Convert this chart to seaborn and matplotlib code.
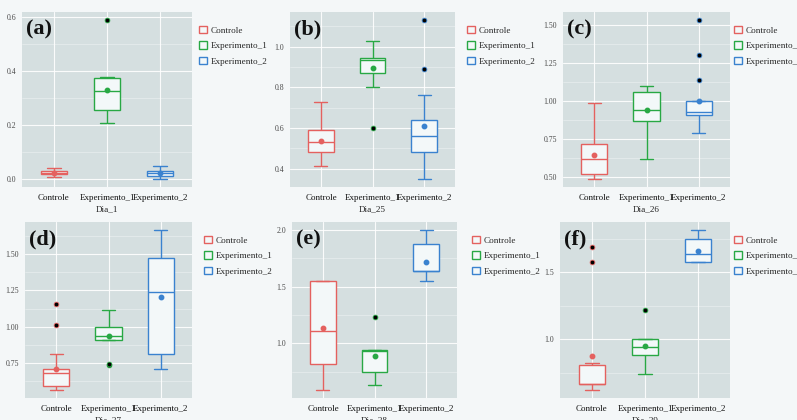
import matplotlib
matplotlib.use("Agg")
import matplotlib.pyplot as plt
from matplotlib.patches import Patch
from matplotlib.ticker import FixedLocator, FormatStrFormatter
import pandas as pd
import seaborn as sns

# Grupos e cores
categorias = ["Controle", "Experimento_1", "Experimento_2"]
cores = {"Controle": "#e4615f", "Experimento_1": "#28a844", "Experimento_2": "#3a82cf"}

# Observações por dia e grupo
dia_1_controle = [0.009, 0.015, 0.018, 0.020, 0.022, 0.027, 0.029, 0.037, 0.039]
dia_1_exp1 = [0.208, 0.230, 0.254, 0.276, 0.325, 0.330, 0.373, 0.377, 0.588]
dia_1_exp2 = [0.000, 0.009, 0.011, 0.018, 0.021, 0.026, 0.030, 0.042, 0.050]

dia_25_controle = [0.411, 0.445, 0.482, 0.500, 0.531, 0.540, 0.591, 0.603, 0.730]
dia_25_exp1 = [0.601, 0.800, 0.871, 0.930, 0.935, 0.940, 0.944, 1.023, 1.029]
dia_25_exp2 = [0.349, 0.400, 0.470, 0.482, 0.520, 0.550, 0.560, 0.576, 0.590,
               0.640, 0.760, 0.889, 1.131]

dia_26_controle = [0.487, 0.505, 0.522, 0.580, 0.618, 0.650, 0.714, 0.733, 0.987]
dia_26_exp1 = [0.618, 0.800, 0.869, 0.910, 0.941, 1.050, 1.061, 1.084, 1.100]
dia_26_exp2 = [0.788, 0.810, 0.836, 0.908, 0.915, 0.925, 0.930, 0.950, 0.970,
               0.996, 1.140, 1.301, 1.531]

dia_27_controle = [0.564, 0.565, 0.566, 0.594, 0.595, 0.597, 0.683, 0.684, 0.685,
                   0.706, 0.812, 1.012, 1.159]
dia_27_exp1 = [0.735, 0.745, 0.911, 0.911, 0.915, 0.925, 0.939, 0.945, 0.960,
               1.001, 1.020, 1.043, 1.118]
dia_27_exp2 = [0.706, 0.790, 0.814, 1.150, 1.238, 1.440, 1.470, 1.553, 1.666]

dia_28_controle = [0.588, 0.700, 0.816, 0.960, 1.113, 1.382, 1.549, 1.549, 1.549]
dia_28_exp1 = [0.632, 0.720, 0.748, 0.910, 0.932, 0.935, 0.938, 0.938, 1.230]
dia_28_exp2 = [1.549, 1.560, 1.641, 1.641, 1.641, 1.645, 1.875, 1.883, 2.000]

dia_29_controle = [0.620, 0.655, 0.663, 0.663, 0.663, 0.663, 0.790, 0.793, 0.823,
                   1.578, 1.688]
dia_29_exp1 = [0.743, 0.850, 0.880, 0.921, 0.940, 0.980, 1.000, 1.000, 1.218]
dia_29_exp2 = [1.578, 1.578, 1.578, 1.585, 1.638, 1.642, 1.750, 1.755, 1.818]

dias = ["Dia_1", "Dia_25", "Dia_26", "Dia_27", "Dia_28", "Dia_29"]
letras = ["(a)", "(b)", "(c)", "(d)", "(e)", "(f)"]
medidas = [
    [dia_1_controle, dia_1_exp1, dia_1_exp2],
    [dia_25_controle, dia_25_exp1, dia_25_exp2],
    [dia_26_controle, dia_26_exp1, dia_26_exp2],
    [dia_27_controle, dia_27_exp1, dia_27_exp2],
    [dia_28_controle, dia_28_exp1, dia_28_exp2],
    [dia_29_controle, dia_29_exp1, dia_29_exp2],
]
marcas_y = [
    [0.0, 0.2, 0.4, 0.6],
    [0.4, 0.6, 0.8, 1.0],
    [0.50, 0.75, 1.00, 1.25, 1.50],
    [0.75, 1.00, 1.25, 1.50],
    [1.0, 1.5, 2.0],
    [1.0, 1.5],
]
formatos_y = ["%.1f", "%.1f", "%.2f", "%.2f", "%.1f", "%.1f"]

# Layout (pixels on a 797x420 canvas): left, top, width, height
W, H = 797, 420
areas = [
    (22, 12, 170, 175), (290, 12, 165, 175), (563, 12, 167, 175),
    (25, 222, 167, 176), (292, 222, 165, 176), (560, 222, 170, 176),
]
legenda_pos = [(199, 26), (467, 26), (734, 26), (204, 236), (472, 236), (734, 236)]

FUNDO = "#f4f7f8"
PAINEL = "#d5dfe0"
CAIXA = "#f3f8f9"

sns.set_theme(style="darkgrid")
plt.rcParams["font.family"] = ["Liberation Serif", "DejaVu Serif"]
plt.rcParams["axes.facecolor"] = PAINEL

fig = plt.figure(figsize=(W / 100, H / 100), dpi=100, facecolor=FUNDO)

for k in range(6):
    x0, y0, w, h = areas[k]
    ax = fig.add_axes([x0 / W, 1 - (y0 + h) / H, w / W, h / H])
    ax.set_facecolor(PAINEL)

    linhas = []
    for g, vals in zip(categorias, medidas[k]):
        for v in vals:
            linhas.append({"grupo": g, "valor": v})
    df = pd.DataFrame(linhas)

    for g in categorias:
        sub = df[df["grupo"] == g]
        sns.boxplot(
            data=sub, x="grupo", y="valor", order=categorias, ax=ax,
            width=0.5, color=CAIXA, linecolor=cores[g], linewidth=1.0,
            saturation=1, showmeans=True,
            meanprops=dict(marker="o", markerfacecolor=cores[g],
                           markeredgecolor=cores[g], markersize=3.2),
            flierprops=dict(marker="o", markerfacecolor="black",
                            markeredgecolor=cores[g], markersize=3.4,
                            markeredgewidth=0.6),
        )

    todos = [v for vals in medidas[k] for v in vals]
    lo, hi = min(todos), max(todos)
    pad = 0.05 * (hi - lo)
    ax.set_ylim(lo - pad, hi + pad)
    ax.set_xlim(-0.6, 2.6)

    ticks = marcas_y[k]
    passo = ticks[1] - ticks[0]
    menores = [t + passo / 2 for t in [ticks[0] - passo] + ticks]
    ax.yaxis.set_major_locator(FixedLocator(ticks))
    ax.yaxis.set_minor_locator(FixedLocator(menores))
    ax.yaxis.set_major_formatter(FormatStrFormatter(formatos_y[k]))

    ax.grid(True, which="major", color="white", linewidth=0.8, alpha=0.9)
    ax.grid(True, which="minor", axis="y", color="white", linewidth=0.4, alpha=0.6)
    ax.xaxis.grid(True, which="major", color="white", linewidth=0.8, alpha=0.9)
    ax.set_axisbelow(True)
    for s in ax.spines.values():
        s.set_visible(False)

    ax.tick_params(axis="both", which="major", length=2.2, width=0.6,
                   color="#666666", pad=2)
    ax.tick_params(axis="y", which="minor", length=0)
    ax.tick_params(axis="y", labelsize=5.6, labelcolor="#4a4a4a")
    ax.tick_params(axis="x", labelsize=6.5, labelcolor="#111111", pad=3)
    ax.set_ylabel("")
    ax.set_xlabel(dias[k], fontsize=6.6, labelpad=2, color="#222222")

    ax.text(0.022, 0.955, letras[k], transform=ax.transAxes, fontsize=16,
            fontweight="bold", va="top", ha="left", color="#111111")

    alcas = [Patch(facecolor=CAIXA, edgecolor=cores[g], linewidth=1.0)
             for g in categorias]
    lx, ly = legenda_pos[k]
    ax.legend(alcas, categorias, loc="upper left",
              bbox_to_anchor=(lx / W, 1 - ly / H), bbox_transform=fig.transFigure,
              frameon=False, fontsize=6.6, handlelength=0.85, handleheight=0.85,
              handletextpad=0.4, labelspacing=0.72, borderpad=0, borderaxespad=0)

fig.savefig("out.png", dpi=100, facecolor=FUNDO)
